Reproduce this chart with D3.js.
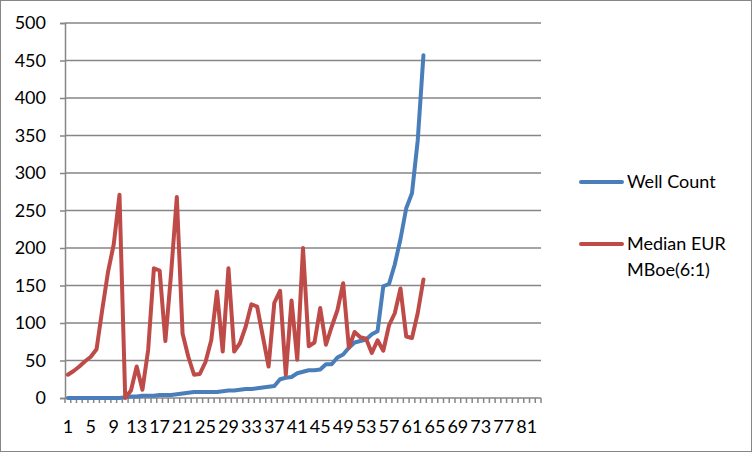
<!DOCTYPE html>
<html><head><meta charset="utf-8">
<script src="https://cdn.jsdelivr.net/npm/d3@7"></script>
<style>body{margin:0;background:#fff}svg{display:block}text{font-family:Lato,"Open Sans",sans-serif}</style>
</head><body><svg id="c" width="752" height="452"></svg>
<script>
const categories = d3.range(1, 84);
const wellCount = [0,0,0,0,0,0,0,0,0,0,1,2,2,3,3,3,4,4,4,5,6,7,8,8,8,8,8,9,10,10,11,12,12,13,14,15,16,25,27,28,33,35,37,37,38,45,45,54,58,67,74,76,78,85,89,149,152,178,212,253,273,343,457];
const medianEUR = [31,36,42,49,55,65,118,168,205,271,0,10,42,11,64,173,170,76,166,268,86,55,31,32,48,77,142,62,173,62,73,95,125,122,82,42,127,143,31,130,51,200,69,74,120,71,95,117,153,67,88,81,79,60,77,63,97,113,146,82,80,113,158];
const yTicks = [0,50,100,150,200,250,300,350,400,450,500];
const xLabels = categories.filter((d,i)=>i%4===0);
const seriesNames = ["Well Count", "Median EUR MBoe(6:1)"];
const colors = ["#4A7EBB", "#BE4B48"];

const svg = d3.select("#c");
const grey = "#868686";
svg.append("rect").attr("x",0.5).attr("y",0.5).attr("width",751).attr("height",451).attr("fill","#fff").attr("stroke",grey);

const L=65, R=541, T=23, B=398;
const FS = 18;
const x = d3.scaleBand().domain(categories).range([L,R]).padding(0);
const y = d3.scaleLinear().domain([0,500]).range([B,T]);
const cx = c => x(c) + x.bandwidth()/2;

// gridlines
svg.append("g").selectAll("line").data(yTicks.filter(v=>v>0)).join("line")
  .attr("x1",L).attr("x2",R).attr("y1",d=>y(d)).attr("y2",d=>y(d))
  .attr("stroke",grey).attr("stroke-width",1.5);

// y axis
const ya = svg.append("g").attr("transform",`translate(${L},0)`)
  .call(d3.axisLeft(y).tickValues(yTicks).tickSize(5).tickPadding(14));
ya.select(".domain").attr("stroke",grey).attr("stroke-width",1.5);
ya.selectAll(".tick line").attr("stroke",grey).attr("stroke-width",1.5);
ya.selectAll(".tick text").attr("font-size",FS).attr("fill","#000").style("font-family","Lato");

// x axis
svg.append("line").attr("x1",L).attr("x2",R).attr("y1",B).attr("y2",B).attr("stroke",grey).attr("stroke-width",1.5);
const bounds = categories.map(c=>x(c)).concat([x(categories[categories.length-1])+x.bandwidth()]);
svg.append("g").selectAll("line").data(bounds).join("line")
  .attr("x1",d=>d).attr("x2",d=>d).attr("y1",B).attr("y2",B+5)
  .attr("stroke",grey).attr("stroke-width",1.5);
svg.append("g").selectAll("text").data(xLabels).join("text")
  .attr("x",d=>cx(d)).attr("y",433).attr("text-anchor","middle")
  .attr("font-size",FS).attr("fill","#000").text(d=>d);

// lines
const line = d3.line().x((d,i)=>cx(categories[i])).y(d=>y(d));
[wellCount, medianEUR].forEach((s,k)=>{
  svg.append("path").datum(s).attr("d",line).attr("fill","none")
    .attr("stroke",colors[k]).attr("stroke-width",4)
    .attr("stroke-linejoin","round").attr("stroke-linecap","round");
});

// legend
const lg = svg.append("g");
const legY = [182, 244];
lg.selectAll("line").data(legY).join("line")
  .attr("x1",581).attr("x2",622).attr("y1",d=>d).attr("y2",d=>d)
  .attr("stroke",(d,i)=>colors[i]).attr("stroke-width",4).attr("stroke-linecap","round");
lg.append("text").attr("x",627).attr("y",188).attr("font-size",FS).attr("fill","#000").text(seriesNames[0]);
const t2 = lg.append("text").attr("x",627).attr("y",250).attr("font-size",FS).attr("fill","#000");
t2.append("tspan").attr("x",627).text("Median EUR");
t2.append("tspan").attr("x",627).attr("dy",26).text("MBoe(6:1)");
</script></body></html>
